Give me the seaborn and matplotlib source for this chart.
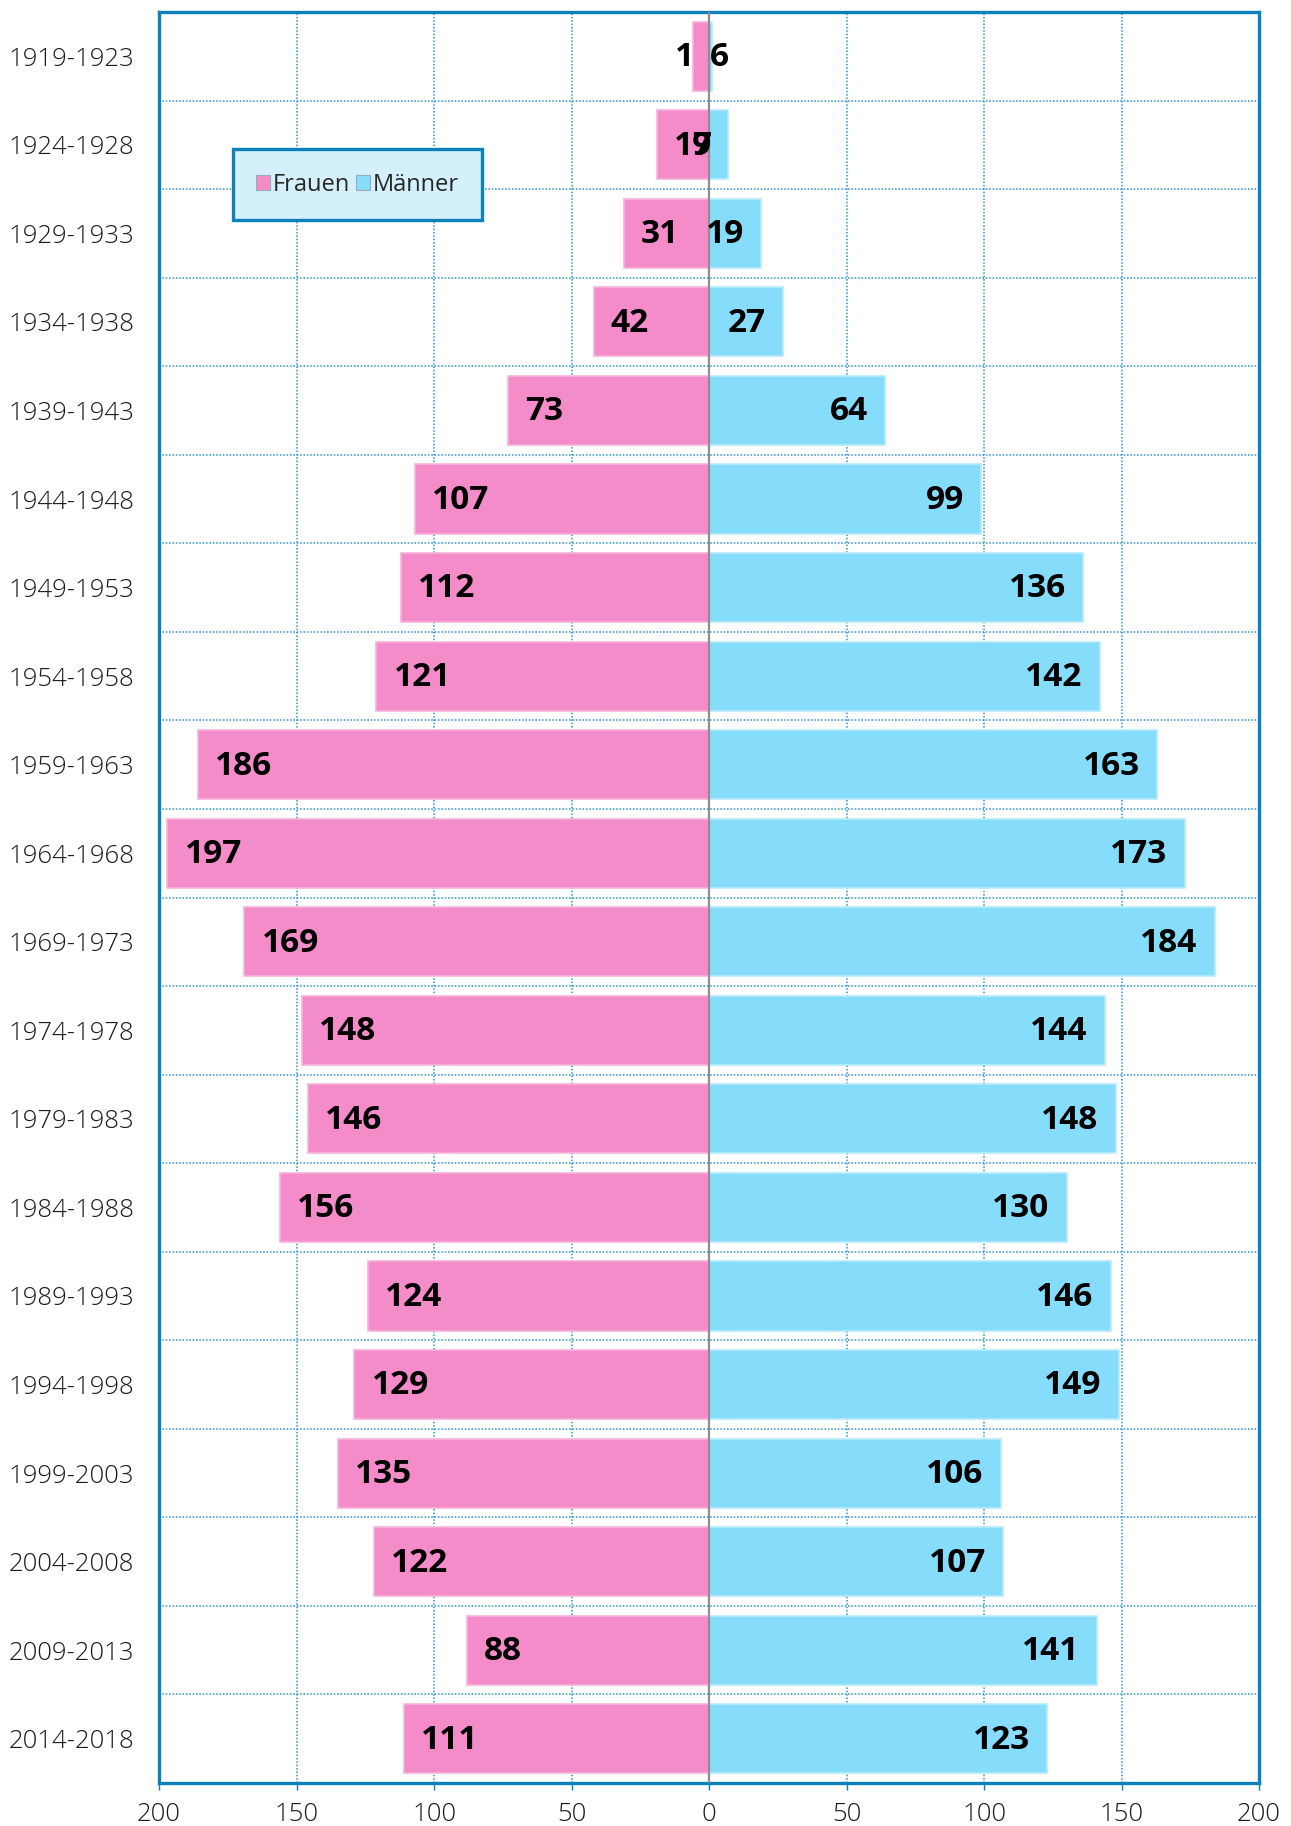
import numpy as np
import pandas as pd
import matplotlib
matplotlib.use("Agg")
import matplotlib.pyplot as plt
import seaborn as sns
from matplotlib.ticker import FuncFormatter, FixedLocator
from matplotlib.font_manager import FontProperties

categories = ["1919-1923", "1924-1928", "1929-1933", "1934-1938", "1939-1943",
              "1944-1948", "1949-1953", "1954-1958", "1959-1963", "1964-1968",
              "1969-1973", "1974-1978", "1979-1983", "1984-1988", "1989-1993",
              "1994-1998", "1999-2003", "2004-2008", "2009-2013", "2014-2018"]
frauen = [6, 19, 31, 42, 73, 107, 112, 121, 186, 197, 169, 148, 146, 156, 124,
          129, 135, 122, 88, 111]
maenner = [1, 7, 19, 27, 64, 99, 136, 142, 163, 173, 184, 144, 148, 130, 146,
           149, 106, 107, 141, 123]
x_ticks = [-200, -150, -100, -50, 0, 50, 100, 150, 200]

PINK = "#f48cc9"
BLUE = "#86ddfb"
FRAME = "#0b80b9"
GRID = "#2b93cc"

sns.set_theme(style="white")
plt.rcParams['font.family'] = ['Open Sans', 'DejaVu Sans']

df = pd.DataFrame({"cat": categories,
                   "frauen": [-v for v in frauen],
                   "maenner": maenner})

fig = plt.figure(figsize=(12.91, 18.26), dpi=100)
ax = fig.add_axes([159/1291, 1-1783/1826, 1100/1291, 1771/1826])

sns.barplot(data=df, x="frauen", y="cat", color=PINK, saturation=1, width=0.78,
            orient="h", ax=ax, label="Frauen", edgecolor="#f7b3da", linewidth=1.2, zorder=3)
sns.barplot(data=df, x="maenner", y="cat", color=BLUE, saturation=1, width=0.78,
            orient="h", ax=ax, label="Männer", edgecolor="#b5ebfd", linewidth=1.2, zorder=3)

ax.set_xlim(-200, 200)
ax.set_ylim(len(categories) - 0.5, -0.5)
ax.set_xlabel("")
ax.set_ylabel("")

ax.xaxis.set_major_locator(FixedLocator(x_ticks))
ax.xaxis.set_major_formatter(FuncFormatter(lambda v, p: f"{abs(int(v))}"))
ax.yaxis.set_minor_locator(FixedLocator(np.arange(0.5, len(categories) - 0.5, 1)))

ax.grid(True, axis="x", which="major", linestyle=(0, (1, 1.2)), color=GRID, linewidth=1.1, zorder=0)
ax.grid(True, axis="y", which="minor", linestyle=(0, (1, 1.2)), color=GRID, linewidth=1.1, zorder=0)
ax.grid(False, axis="y", which="major")
ax.set_axisbelow(True)

ax.axvline(0, color="#8e8e8e", linewidth=1.6, zorder=4)

for s in ax.spines.values():
    s.set_color(FRAME)
    s.set_linewidth(2.4)

ax.tick_params(axis="y", which="both", length=0, pad=18, labelsize=18.5, labelcolor="#1a1a1a")
ax.tick_params(axis="x", which="major", length=5, width=1, color=FRAME, pad=9,
               labelsize=18.5, labelcolor="#1a1a1a", bottom=True)
for t in ax.get_yticklabels() + ax.get_xticklabels():
    t.set_fontweight("light")

for i, (f, m) in enumerate(zip(frauen, maenner)):
    ax.annotate(str(f), xy=(-f, i), xytext=(12.5, -1), textcoords="offset points",
                ha="left", va="center", fontsize=24, fontweight="bold", color="black", zorder=6)
    ax.annotate(str(m), xy=(m, i), xytext=(-12.5, -1), textcoords="offset points",
                ha="right", va="center", fontsize=24, fontweight="bold", color="black", zorder=6)

leg_font = FontProperties(family=['Open Sans', 'DejaVu Sans'], size=17)
leg = ax.legend(loc="upper left", bbox_to_anchor=(0.067, 0.9226), ncol=2, frameon=True,
                fancybox=False, prop=leg_font, handlelength=0.6, handleheight=0.6,
                handletextpad=0.1, columnspacing=0.25, borderpad=1.0, borderaxespad=0)
frame = leg.get_frame()
frame.set_facecolor("#d4f1fb")
frame.set_edgecolor(FRAME)
frame.set_linewidth(2.4)
frame.set_alpha(1)
for h in leg.legend_handles:
    h.set_edgecolor("#9ab")
    h.set_linewidth(0.8)

fig.savefig("out.png", dpi=100)
